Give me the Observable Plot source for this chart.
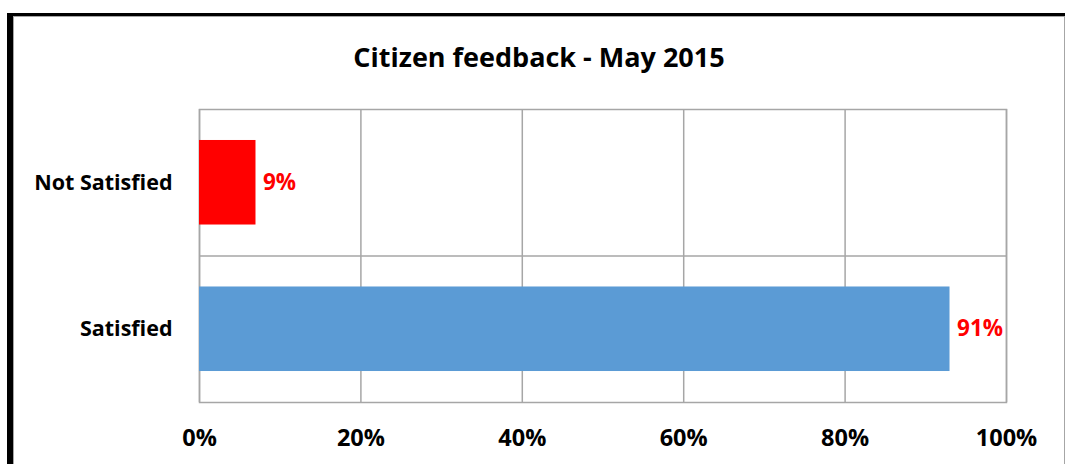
<!DOCTYPE html>
<html>
<head>
<meta charset="utf-8">
<script src="https://cdn.jsdelivr.net/npm/d3@7"></script>
<script src="https://cdn.jsdelivr.net/npm/@observablehq/plot@0.6"></script>
<style>
  html, body { margin: 0; padding: 0; background: #fff; width: 1065px; height: 464px; overflow: hidden; }
  #outer { position: absolute; left: 7px; top: 13px; width: 1052px; height: 460px; border-top: 3px solid #000; border-left: 6px solid #000; }
  #inner { position: absolute; left: 0; top: 0; right: 0; bottom: 0; border: 1px solid #a6a6a6; border-bottom: none; }
  #title { position: absolute; left: 14px; width: 1050px; top: 42px; text-align: center; font-family: "Open Sans", sans-serif; font-weight: bold; font-size: 27px; line-height: 30px; color: #000; }
  #chart { position: absolute; left: 0; top: 90px; }
</style>
</head>
<body>
<div id="outer"><div id="inner"></div></div>
<div id="title">Citizen feedback - May 2015</div>
<div id="chart"></div>
<script>
const categories = ["Not Satisfied", "Satisfied"];
const barValues = [0.07, 0.93];
const valueLabels = ["9%", "91%"];
const barColors = ["#ff0000", "#5b9bd5"];
const xTicks = [0, 0.2, 0.4, 0.6, 0.8, 1.0];

const half = 0.2885;
const data = categories.map((c, i) => ({i, category: c, value: barValues[i], label: valueLabels[i], color: barColors[i]}));
const boundaries = d3.range(1, categories.length).map(i => i - 0.5);
const grid = "#a6a6a6";
const font = "'Open Sans', sans-serif";

const chart = Plot.plot({
  width: 1065,
  height: 374,
  marginLeft: 199,
  marginRight: 59,
  marginTop: 19,
  marginBottom: 62,
  style: {fontFamily: font, fontSize: "21.5px", fontWeight: "bold", color: "#000", background: "transparent", overflow: "visible"},
  x: {domain: [0, 1], label: null},
  y: {domain: [-0.5, categories.length - 0.5], reverse: true, label: null},
  marks: [
    Plot.ruleX(xTicks, {stroke: grid, strokeWidth: 1.5}),
    Plot.ruleY(boundaries, {stroke: grid, strokeWidth: 1.5}),
    Plot.frame({stroke: grid, strokeWidth: 1.5}),
    Plot.rectX(data, {x1: 0, x2: "value", y1: d => d.i - half, y2: d => d.i + half, fill: "color"}),
    Plot.text(data, {x: "value", y: "i", text: "label", dx: 7, textAnchor: "start", fill: "#ff0000", fontWeight: "bold", fontSize: 22.5}),
    Plot.axisX(xTicks, {tickSize: 0, tickPadding: 27, tickFormat: d => Math.round(d * 100) + "%", fontSize: 23.5, fontWeight: "bold", label: null}),
    Plot.axisY(d3.range(categories.length), {tickSize: 0, tickPadding: 27, tickFormat: i => categories[i], fontSize: 21.5, fontWeight: "bold", label: null})
  ]
});
document.getElementById("chart").appendChild(chart);
</script>
</body>
</html>
